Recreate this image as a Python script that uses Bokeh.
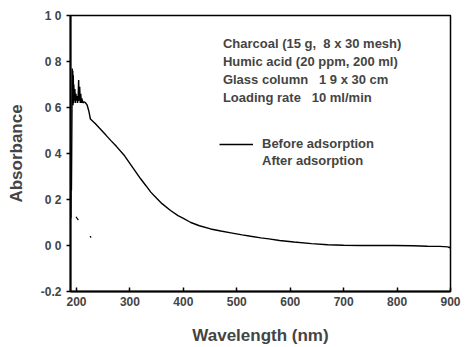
from bokeh.plotting import figure
from bokeh.models import (FixedTicker, Legend, LegendItem, Label, Range1d)
from bokeh.embed import file_html
from bokeh.resources import INLINE

# ---------------- data ----------------
before_wl = [189.5, 190, 190.5, 191, 191.5, 192, 192.5, 193, 193.5, 194, 194.5,
             195, 196, 197, 198, 199, 200, 201, 202, 203, 204, 205, 206, 207,
             208, 209, 210, 212, 214, 217, 220, 223, 226, 235, 245, 255, 264,
             275, 290, 305, 320, 330, 339, 350, 360, 376, 390, 400, 414, 430,
             451, 470, 489, 510, 526, 545, 560, 580, 607, 640, 670, 700, 732,
             760, 795, 830, 857, 880, 895, 899, 900]
before_abs = [0.12, 0.36, 0.24, 0.40, 0.58, 0.77, 0.63, 0.76, 0.61, 0.74, 0.62,
              0.70, 0.63, 0.68, 0.62, 0.66, 0.63, 0.65, 0.62, 0.64, 0.72, 0.63,
              0.69, 0.62, 0.66, 0.62, 0.64, 0.62, 0.625, 0.62, 0.61, 0.585,
              0.55, 0.53, 0.505, 0.48, 0.457, 0.43, 0.39, 0.34, 0.29, 0.26,
              0.232, 0.205, 0.182, 0.152, 0.13, 0.118, 0.10, 0.086, 0.072,
              0.063, 0.055, 0.046, 0.040, 0.033, 0.029, 0.022, 0.015, 0.008,
              0.003, 0.001, 0.0, 0.0, 0.0, -0.001, -0.003, -0.004, -0.006,
              -0.01, -0.005]

# "After adsorption" trace: only a few faint fragments survive in the print
after_wl = [199, 203.5, float("nan"), 225, 227.5]
after_abs = [0.125, 0.11, float("nan"), 0.04, 0.035]

x_ticks = [200, 300, 400, 500, 600, 700, 800, 900]
y_ticks = [-0.2, 0.0, 0.2, 0.4, 0.6, 0.8, 1.0]
y_tick_labels = ["-0.2", "0 0", "0 2", "0 4", "0 6", "0 8", "1 0"]

NB = "\u00a0"
notes = ["Charcoal (15 g," + NB + " 8 x 30 mesh)",
         "Humic acid (20 ppm, 200 ml)",
         "Glass column" + NB + NB + " 1 9 x 30 cm",
         "Loading rate" + NB + NB + " 10 ml/min"]
note_y = [0.877, 0.798, 0.720, 0.644]
note_x = 474

series_labels = ["Before adsorption", "After adsorption"]

FONT = "Liberation Sans"

# ---------------- figure ----------------
p = figure(width=465, height=347, output_backend="svg", toolbar_location=None,
           x_range=Range1d(188.75, 900), y_range=Range1d(-0.2, 1.0),
           min_border_left=70, min_border_right=15, min_border_top=15,
           min_border_bottom=56)
p.grid.visible = False
p.background_fill_color = "white"
p.border_fill_color = "white"
p.outline_line_color = "black"
p.outline_line_width = 1.5

before_r = p.line(before_wl, before_abs, line_color="black", line_width=1.4)
after_r = p.line(after_wl, after_abs, line_color="black", line_width=1.2)
after_proxy = p.line([200, 201], [0.1, 0.1], line_alpha=0)

# axes
xa = p.xaxis[0]
xa.ticker = FixedTicker(ticks=x_ticks)
xa.major_tick_in = 4
xa.major_tick_out = 0
xa.minor_tick_line_color = None
xa.axis_line_width = 2
xa.major_tick_line_width = 1.5
xa.major_label_text_font = FONT
xa.major_label_text_font_style = "bold"
xa.major_label_text_font_size = "12px"
xa.major_label_standoff = 5
xa.axis_label = "Wavelength (nm)"
xa.axis_label_text_font = FONT
xa.axis_label_text_font_style = "bold"
xa.axis_label_text_font_size = "17px"
xa.axis_label_standoff = 17

ya = p.yaxis[0]
ya.ticker = FixedTicker(ticks=y_ticks)
ya.major_label_overrides = {t: l for t, l in zip(y_ticks, y_tick_labels)}
ya.major_tick_in = 0
ya.major_tick_out = 4
ya.minor_tick_line_color = None
ya.axis_line_width = 2
ya.major_tick_line_width = 1.5
ya.major_label_text_font = FONT
ya.major_label_text_font_style = "bold"
ya.major_label_text_font_size = "12px"
ya.major_label_standoff = 5
ya.axis_label = "Absorbance"
ya.axis_label_text_font = FONT
ya.axis_label_text_font_style = "bold"
ya.axis_label_text_font_size = "17px"
ya.axis_label_standoff = 12

# notes
for txt, yy in zip(notes, note_y):
    p.add_layout(Label(x=note_x, y=yy, text=txt, text_font=FONT,
                       text_font_style="bold", text_font_size="13px",
                       text_baseline="middle", text_align="left"))

legend = Legend(items=[LegendItem(label=series_labels[0], renderers=[before_r]),
                       LegendItem(label=series_labels[1], renderers=[after_proxy])],
                location=(149, 123), padding=0, margin=0, spacing=2,
                glyph_width=34, glyph_height=14, label_height=14,
                label_standoff=9, border_line_color=None,
                background_fill_alpha=0, label_text_font=FONT,
                label_text_font_style="bold", label_text_font_size="13px")
p.add_layout(legend)

open("out.html", "w").write(file_html(p, INLINE))
